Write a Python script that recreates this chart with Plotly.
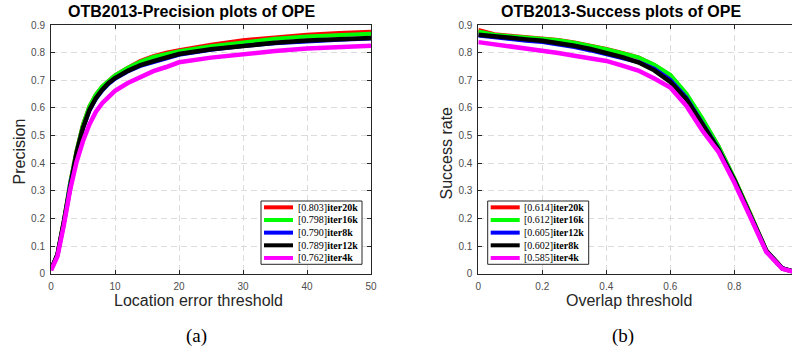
import plotly.graph_objects as go

W, H = 792, 350

# ---------------- data ----------------
prec_thr = [0, 1, 2, 3, 4, 5, 6, 7, 8, 9, 10, 12, 14, 16, 18, 20, 25, 30, 35, 40, 45, 50]
prec_red = [0.015, 0.07, 0.19, 0.33, 0.445, 0.54, 0.605, 0.647, 0.677, 0.70, 0.718, 0.745,
            0.77, 0.787, 0.80, 0.809, 0.829, 0.845, 0.856, 0.865, 0.871, 0.876]
prec_green = [0.015, 0.07, 0.19, 0.33, 0.445, 0.54, 0.606, 0.648, 0.678, 0.70, 0.718, 0.745,
              0.768, 0.784, 0.796, 0.805, 0.823, 0.838, 0.85, 0.858, 0.864, 0.868]
prec_blue = [0.015, 0.068, 0.185, 0.322, 0.435, 0.525, 0.59, 0.632, 0.663, 0.687, 0.705, 0.732,
             0.752, 0.766, 0.778, 0.792, 0.81, 0.824, 0.834, 0.842, 0.847, 0.851]
prec_black = [0.015, 0.068, 0.186, 0.323, 0.437, 0.528, 0.593, 0.635, 0.666, 0.69, 0.708, 0.734,
              0.755, 0.769, 0.781, 0.795, 0.812, 0.826, 0.836, 0.844, 0.849, 0.853]
prec_magenta = [0.012, 0.062, 0.175, 0.305, 0.405, 0.48, 0.54, 0.585, 0.617, 0.642, 0.662, 0.69,
                0.713, 0.733, 0.748, 0.765, 0.782, 0.795, 0.806, 0.815, 0.82, 0.825]
prec_labels = ["[0.803]<b>iter20k</b>", "[0.798]<b>iter16k</b>", "[0.790]<b>iter8k</b>",
               "[0.789]<b>iter12k</b>", "[0.762]<b>iter4k</b>"]

succ_thr = [0, 0.05, 0.1, 0.15, 0.2, 0.25, 0.3, 0.35, 0.4, 0.45, 0.5, 0.55, 0.6, 0.65, 0.7,
            0.75, 0.8, 0.85, 0.9, 0.95, 1.0]
succ_red = [0.882, 0.867, 0.861, 0.857, 0.853, 0.846, 0.837, 0.826, 0.813, 0.799, 0.783, 0.755,
            0.718, 0.65, 0.56, 0.462, 0.345, 0.218, 0.085, 0.02, 0.003]
succ_green = [0.877, 0.865, 0.859, 0.855, 0.851, 0.845, 0.836, 0.825, 0.812, 0.798, 0.783, 0.756,
              0.72, 0.652, 0.562, 0.463, 0.346, 0.218, 0.085, 0.02, 0.003]
succ_blue = [0.862, 0.855, 0.848, 0.843, 0.838, 0.83, 0.82, 0.808, 0.795, 0.78, 0.766, 0.742,
             0.702, 0.638, 0.547, 0.453, 0.34, 0.213, 0.083, 0.02, 0.003]
succ_black = [0.865, 0.858, 0.852, 0.848, 0.843, 0.835, 0.825, 0.813, 0.80, 0.784, 0.765, 0.736,
              0.694, 0.632, 0.542, 0.45, 0.338, 0.212, 0.082, 0.019, 0.003]
succ_magenta = [0.838, 0.83, 0.825, 0.818, 0.808, 0.799, 0.789, 0.78, 0.77, 0.753, 0.735, 0.706,
                0.674, 0.608, 0.518, 0.442, 0.33, 0.205, 0.079, 0.018, 0.002]
succ_labels = ["[0.614]<b>iter20k</b>", "[0.612]<b>iter16k</b>", "[0.605]<b>iter12k</b>",
               "[0.602]<b>iter8k</b>", "[0.585]<b>iter4k</b>"]

colors = ["#ff0000", "#00ff00", "#0000ff", "#000000", "#ff00ff"]
widths = [4, 4, 4, 4.5, 4.5]

y_ticks = [0, 0.1, 0.2, 0.3, 0.4, 0.5, 0.6, 0.7, 0.8, 0.9]
y_ticktext = ["0", "0.1", "0.2", "0.3", "0.4", "0.5", "0.6", "0.7", "0.8", "0.9"]
x1_ticks = [0, 10, 20, 30, 40, 50]
x2_ticks = [0, 0.2, 0.4, 0.6, 0.8]
x2_ticktext = ["0", "0.2", "0.4", "0.6", "0.8"]

# ---------------- helpers ----------------
def px(x):
    return x / W

def py(y):
    return 1 - y / H

fig = go.Figure()

prec_series = [prec_red, prec_green, prec_blue, prec_black, prec_magenta]
succ_series = [succ_red, succ_green, succ_blue, succ_black, succ_magenta]

for vals, c, w, name in zip(prec_series, colors, widths, prec_labels):
    fig.add_trace(go.Scatter(x=prec_thr, y=vals, mode="lines", name=name,
                             line=dict(color=c, width=w), xaxis="x", yaxis="y",
                             showlegend=False))
for vals, c, w, name in zip(succ_series, colors, widths, succ_labels):
    fig.add_trace(go.Scatter(x=succ_thr, y=vals, mode="lines", name=name,
                             line=dict(color=c, width=w), xaxis="x2", yaxis="y2",
                             showlegend=False))

# plot area pixel geometry
L1, R1 = 51, 371
L2 = 478.3
T, B = 25, 273.7
x2_max = (W - L2) / 320.0

axis_common = dict(
    showgrid=True, gridcolor="#dcdcdc", griddash="6px,4px", gridwidth=1,
    showline=True, linecolor="#262626", linewidth=1,
    ticks="inside", ticklen=4, tickcolor="#262626",
    tickfont=dict(family="Liberation Sans, Arial", size=10, color="#4d4d4d"),
    zeroline=False, fixedrange=True, automargin=False,
)

fig.update_layout(
    width=W, height=H,
    margin=dict(l=0, r=0, t=0, b=0, autoexpand=False),
    paper_bgcolor="white", plot_bgcolor="white",
    xaxis=dict(domain=[px(L1), px(R1)], range=[0, 50], tickvals=x1_ticks,
               anchor="y", mirror="ticks", ticklabelstandoff=3, **axis_common),
    yaxis=dict(domain=[py(B), py(T)], range=[0, 0.9], tickvals=y_ticks, ticktext=y_ticktext,
               anchor="x", mirror="ticks", ticklabelstandoff=3, **axis_common),
    xaxis2=dict(domain=[px(L2), 1.0], range=[0, x2_max], tickvals=x2_ticks, ticktext=x2_ticktext,
                anchor="y2", mirror="ticks", ticklabelstandoff=3, **axis_common),
    yaxis2=dict(domain=[py(B), py(T)], range=[0, 0.9], tickvals=y_ticks, ticktext=y_ticktext,
                anchor="x2", mirror=False, ticklabelstandoff=3, **axis_common),
    showlegend=False,
)

annotations = []
shapes = []

title_font = dict(family="Liberation Sans, Arial", size=16, color="black")
label_font = dict(family="Liberation Sans, Arial", size=16, color="#262626")
cap_font = dict(family="Liberation Serif, serif", size=19, color="black")

# titles
annotations.append(dict(text="<b>OTB2013-Precision plots of OPE</b>", x=px(192), y=py(11),
                        xref="paper", yref="paper", showarrow=False, font=title_font,
                        xanchor="center", yanchor="middle"))
annotations.append(dict(text="<b>OTB2013-Success plots of OPE</b>", x=px(620.5), y=py(11),
                        xref="paper", yref="paper", showarrow=False, font=title_font,
                        xanchor="center", yanchor="middle"))
# axis titles
annotations.append(dict(text="Location error threshold", x=px(199), y=py(300.5),
                        xref="paper", yref="paper", showarrow=False, font=label_font,
                        xanchor="center", yanchor="middle"))
annotations.append(dict(text="Overlap threshold", x=px(629.3), y=py(300.5),
                        xref="paper", yref="paper", showarrow=False, font=label_font,
                        xanchor="center", yanchor="middle"))
annotations.append(dict(text="Precision", x=px(18.5), y=py(152), textangle=-90,
                        xref="paper", yref="paper", showarrow=False, font=label_font,
                        xanchor="center", yanchor="middle"))
annotations.append(dict(text="Success rate", x=px(445.5), y=py(153), textangle=-90,
                        xref="paper", yref="paper", showarrow=False, font=label_font,
                        xanchor="center", yanchor="middle"))
# captions
annotations.append(dict(text="(a)", x=px(196), y=py(336), xref="paper", yref="paper",
                        showarrow=False, font=cap_font, xanchor="center", yanchor="middle"))
annotations.append(dict(text="(b)", x=px(623), y=py(336), xref="paper", yref="paper",
                        showarrow=False, font=cap_font, xanchor="center", yanchor="middle"))

# manual legends
def add_legend(box_l, box_r, box_t, box_b, labels):
    shapes.append(dict(type="rect", xref="paper", yref="paper",
                       x0=px(box_l), x1=px(box_r), y0=py(box_b), y1=py(box_t),
                       line=dict(color="#262626", width=1), fillcolor="white", layer="above"))
    row_h = (box_b - box_t) / len(labels)
    for i, (lab, c) in enumerate(zip(labels, colors)):
        yc = box_t + row_h * (i + 0.5)
        shapes.append(dict(type="line", xref="paper", yref="paper",
                           x0=px(box_l + 3), x1=px(box_l + 32), y0=py(yc), y1=py(yc),
                           line=dict(color=c, width=4), layer="above"))
        annotations.append(dict(text=lab, x=px(box_l + 34.5), y=py(yc), xref="paper",
                                yref="paper", showarrow=False, xanchor="left",
                                yanchor="middle",
                                font=dict(family="Liberation Serif, serif", size=10,
                                          color="black")))

add_legend(261, 362, 201, 264.3, prec_labels)
add_legend(487.7, 588.7, 201, 264.3, succ_labels)

fig.update_layout(annotations=annotations, shapes=shapes)

fig.write_html(
    "out.html",
    config={"displayModeBar": False},
    post_script="document.body.style.margin='0px';document.body.style.padding='0px';"
                "document.body.style.overflow='hidden';",
)
